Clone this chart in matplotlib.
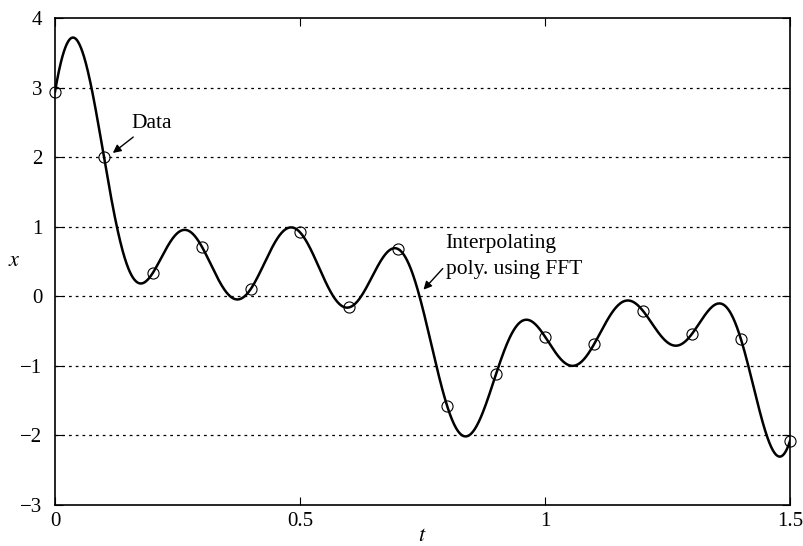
import numpy as np
import matplotlib
matplotlib.use("Agg")
import matplotlib.pyplot as plt

plt.rcParams["font.family"] = ["Liberation Serif", "DejaVu Serif"]
plt.rcParams["mathtext.fontset"] = "stix"

# Sampled data on [0, 1.5], step 0.1 (period of interpolant = 1.6)
t_data = [0.0, 0.1, 0.2, 0.3, 0.4, 0.5, 0.6, 0.7, 0.8, 0.9,
          1.0, 1.1, 1.2, 1.3, 1.4, 1.5]
x_data = [2.94, 2.00, 0.34, 0.71, 0.11, 0.92, -0.16, 0.68, -1.57, -1.12,
          -0.58, -0.69, -0.21, -0.54, -0.62, -2.08]

y_ticks = [-3, -2, -1, 0, 1, 2, 3, 4]
x_ticks = [0, 0.5, 1, 1.5]
x_tick_labels = ["0", "0.5", "1", "1.5"]


def trig_interp(t_samples, x_samples, t_eval):
    """Real trigonometric interpolating polynomial computed with the FFT."""
    x_arr = np.asarray(x_samples, dtype=float)
    n = len(x_arr)
    dt = t_samples[1] - t_samples[0]
    period = n * dt
    c = np.fft.fft(x_arr) / n
    tt = (np.asarray(t_eval) - t_samples[0]) / period
    p = np.full_like(tt, c[0].real)
    for k in range(1, n // 2):
        p += 2 * np.real(c[k] * np.exp(2j * np.pi * k * tt))
    if n % 2 == 0:
        p += c[n // 2].real * np.cos(np.pi * n * tt)
    return p


t_fine = np.linspace(0, 1.5, 1500)
x_fine = trig_interp(t_data, x_data, t_fine)

fig = plt.figure(figsize=(8.04, 5.46), dpi=100)
ax = fig.add_axes([0.0684, 0.0751, 0.9142, 0.8919])

ax.plot(t_fine, x_fine, color="black", lw=1.8, zorder=3)
ax.plot(t_data, x_data, "o", mfc="none", mec="black", ms=8, mew=0.8,
        zorder=4, clip_on=False)

ax.set_xlim(0, 1.5)
ax.set_ylim(-3, 4)
ax.set_xticks(x_ticks)
ax.set_xticklabels(x_tick_labels)
ax.set_yticks(y_ticks)
ax.set_yticklabels(["\u2212" + str(-v) if v < 0 else str(v) for v in y_ticks])

for yv in y_ticks[1:-1]:
    ax.axhline(yv, color="black", lw=0.9, ls=(0, (2.2, 3.2)), zorder=1)

ax.tick_params(direction="in", top=True, right=True, length=6, width=0.8,
               labelsize=15)
ax.tick_params(axis="x", pad=5)
ax.tick_params(axis="y", pad=9)
for s in ax.spines.values():
    s.set_linewidth(1.2)

ax.set_xlabel("$t$", fontsize=16, labelpad=-3)
ax.set_ylabel("$x$", fontsize=16, rotation=0, labelpad=4, va="center")

ax.annotate("Data", xy=(0.118, 2.06), xytext=(0.155, 2.49),
            fontsize=15.5, ha="left", va="center",
            arrowprops=dict(arrowstyle="-|>", color="black", lw=1.0,
                            mutation_scale=12, shrinkA=2, shrinkB=0))
ax.annotate("Interpolating\npoly. using FFT", xy=(0.752, 0.095),
            xytext=(0.797, 0.57), fontsize=15.5, ha="left", va="center",
            linespacing=1.45,
            arrowprops=dict(arrowstyle="-|>", color="black", lw=1.0,
                            mutation_scale=12, shrinkA=0, shrinkB=0,
                            relpos=(0.0, 0.3)))

fig.savefig("out.png", dpi=100)
